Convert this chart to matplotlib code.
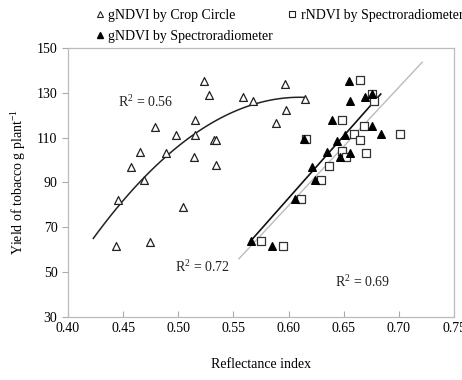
import numpy as np
import matplotlib
matplotlib.use("Agg")
import matplotlib.pyplot as plt
from matplotlib.lines import Line2D

plt.rcParams["font.family"] = ["Liberation Serif", "DejaVu Serif"]
plt.rcParams["mathtext.fontset"] = "custom"
plt.rcParams["mathtext.rm"] = "Liberation Serif"

# gNDVI by Crop Circle (open triangles)
cc_x = [0.523, 0.528, 0.479, 0.498, 0.515, 0.515, 0.532, 0.534, 0.465, 0.489,
        0.514, 0.457, 0.534, 0.469, 0.445, 0.504, 0.444, 0.474, 0.597, 0.559,
        0.568, 0.615, 0.598, 0.589]
cc_y = [135.4, 129.0, 114.9, 111.3, 117.9, 111.3, 109.0, 108.7, 103.5, 103.0,
        101.2, 96.9, 97.7, 91.0, 82.2, 79.1, 61.7, 63.6, 133.8, 128.0,
        126.5, 127.1, 122.3, 116.7]

# gNDVI by Spectroradiometer (filled triangles)
gs_x = [0.655, 0.656, 0.669, 0.676, 0.639, 0.676, 0.651, 0.684, 0.614, 0.644,
        0.635, 0.647, 0.656, 0.621, 0.624, 0.606, 0.566, 0.585]
gs_y = [135.4, 126.5, 128.0, 129.5, 117.9, 115.2, 111.3, 111.6, 109.3, 108.6,
        103.5, 101.2, 103.0, 97.0, 91.1, 82.5, 64.0, 61.8]

# rNDVI by Spectroradiometer (open squares)
rs_x = [0.665, 0.676, 0.677, 0.648, 0.668, 0.659, 0.665, 0.616, 0.648, 0.652,
        0.670, 0.637, 0.629, 0.611, 0.575, 0.595, 0.701]
rs_y = [135.6, 129.3, 126.5, 117.9, 115.2, 111.6, 109.0, 109.3, 104.2, 101.2,
        103.3, 97.4, 91.1, 82.5, 64.0, 61.8, 111.6]

# trend lines: coefficients (highest power first) and x range
cc_fit = [-1795.6, 2191.5, -540.7]
cc_rng = [0.423, 0.615]
gs_fit = [556.0, -250.6]
gs_rng = [0.566, 0.6835]
rs_fit = [528.0, -237.1]
rs_rng = [0.555, 0.721]

r2_text = ["R$^2$ = 0.56", "R$^2$ = 0.72", "R$^2$ = 0.69"]
r2_pos = [(0.47, 126), (0.5215, 52.4), (0.6667, 45.6)]

fig = plt.figure(figsize=(4.62, 3.80), dpi=100)
ax = fig.add_axes([0.147, 0.166, 0.836, 0.708])

ax.scatter(cc_x, cc_y, marker="^", s=32, facecolors="white", edgecolors="#222222",
           linewidths=0.9, zorder=3)
ax.scatter(rs_x, rs_y, marker="s", s=26, facecolors="white", edgecolors="#333333",
           linewidths=0.9, zorder=3)
ax.scatter(gs_x, gs_y, marker="^", s=30, color="black", zorder=4)

for fit, rng, col, lw in [(cc_fit, cc_rng, "#222222", 1.1),
                          (gs_fit, gs_rng, "#111111", 1.2),
                          (rs_fit, rs_rng, "#bbbbbb", 1.0)]:
    xx = np.linspace(rng[0], rng[1], 100)
    ax.plot(xx, np.polyval(fit, xx), color=col, lw=lw, zorder=2)

for t, (x, y) in zip(r2_text, r2_pos):
    ax.text(x, y, t, ha="center", va="center", fontsize=10, color="#222222")

ax.set_xlim(0.40, 0.75)
ax.set_ylim(30, 150)
ax.set_xticks(np.arange(0.40, 0.751, 0.05))
ax.set_yticks(np.arange(30, 151, 20))
ax.xaxis.set_major_formatter(matplotlib.ticker.FormatStrFormatter("%.2f"))
ax.tick_params(axis="x", direction="in", length=4, color="#aaaaaa", labelsize=10, pad=4)
ax.tick_params(axis="y", direction="out", length=4, color="#aaaaaa", labelsize=10)
for s in ax.spines.values():
    s.set_color("#bbbbbb"); s.set_linewidth(0.9)

ax.set_xlabel("Reflectance index", fontsize=10, labelpad=16)
ax.set_ylabel("Yield of tobacco g plant$^{-1}$", fontsize=10, labelpad=6)

handles = [
    Line2D([], [], marker="^", ls="none", mfc="white", mec="#222222", ms=5, mew=0.8),
    Line2D([], [], marker="^", ls="none", color="black", ms=5),
    Line2D([], [], marker="s", ls="none", mfc="white", mec="#222222", ms=5, mew=0.8),
]
labels = ["gNDVI by Crop Circle", "gNDVI by Spectroradiometer", "rNDVI by Spectroradiometer"]
fig.legend(handles, labels, ncol=2, loc="upper left", bbox_to_anchor=(0.18, 1.01),
           frameon=False, fontsize=10, handlelength=0.6, handletextpad=0.3,
           columnspacing=1.1, labelspacing=0.6)

fig.savefig("out.png", dpi=100)
